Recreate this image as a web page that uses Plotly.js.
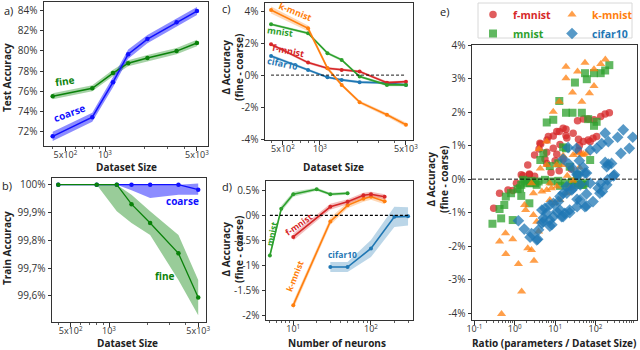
<!DOCTYPE html>
<html><head><meta charset="utf-8">
<script src="https://cdn.plot.ly/plotly-3.0.1.min.js"></script>
<style>html,body{margin:0;padding:0;background:#fff}#chart{width:640px;height:350px}</style>
</head><body><div id="chart"></div>
<script>
// ---------- data ----------
const datasetSizes = [400, 800, 1150, 1500, 2100, 3500, 5000];
const sizeTickVals = [500, 1000, 5000];
const sizeTickText = ['5x10<sup>2</sup>', '10<sup>3</sup>', '5x10<sup>3</sup>'];

// a) test accuracy (%)
const testFine = [75.52, 76.3, 77.8, 78.77, 79.27, 79.96, 80.75];
const testFineErr = [0.3, 0.3, 0.32, 0.3, 0.3, 0.3, 0.32];
const testCoarse = [71.57, 73.45, 76.9, 79.66, 81.14, 82.8, 83.9];
const testCoarseErr = [0.45, 0.45, 0.5, 0.45, 0.4, 0.4, 0.4];
const testTickVals = [72, 74, 76, 78, 80, 82, 84];
const testTickText = ['72%', '74%', '76%', '78%', '80%', '82%', '84%'];

// b) train accuracy (%)
const trainFine = [100, 100, 100, 99.930, 99.862, 99.753, 99.594];
const trainFineLow = [100, 100, 99.904, 99.862, 99.819, 99.657, 99.53];
const trainFineHigh = [100, 100, 100, 99.964, 99.904, 99.819, 99.657];
const trainCoarse = [100, 100, 100, 100, 100, 100, 99.982];
const trainCoarseLow = [100, 100, 100, 99.98, 99.952, 99.964, 99.964];
const trainCoarseHigh = [100, 100, 100, 100, 100, 100, 100.004];
const trainTickVals = [99.6, 99.7, 99.8, 99.9, 100];
const trainTickText = ['99,6%', '99,7%', '99,8%', '99,9%', '100%'];

// c) delta accuracy vs dataset size (%)
const kmnistBySize = [4.06, 2.92, 0.43, -0.61, -1.69, -2.48, -3.1];
const kmnistBySizeErr = [0.22, 0.18, 0.12, 0.1, 0.1, 0.12, 0.14];
const mnistBySize = [3.17, 2.61, 1.37, 0.95, -0.09, -0.61, -0.61];
const mnistBySizeErr = [0.08, 0.08, 0.08, 0.08, 0.08, 0.08, 0.08];
const fmnistBySize = [1.93, 0.78, 0.43, 0.32, 0.22, -0.47, -0.41];
const fmnistBySizeErr = [0.08, 0.08, 0.08, 0.08, 0.08, 0.08, 0.08];
const cifarBySize = [1.2, 0.32, -0.13, -0.3, -0.44, -0.49, -0.61];
const cifarBySizeErr = [0.08, 0.08, 0.08, 0.08, 0.08, 0.08, 0.08];
const cTickVals = [-4, -2, 0, 2, 4];
const cTickText = ['-4%', '-2%', '0%', '2%', '4%'];

// d) delta accuracy vs number of neurons (%)
const mnistNeurons = [5, 7, 10, 20, 30, 50];
const mnistByNeurons = [-0.8, 0.13, 0.42, 0.52, 0.42, 0.44];
const mnistByNeuronsErr = [0.06, 0.06, 0.05, 0.03, 0.03, 0.03];
const fmnistNeurons = [10, 30, 50, 80, 100, 150];
const fmnistByNeurons = [-0.43, 0.17, 0.27, 0.40, 0.42, 0.37];
const fmnistByNeuronsErr = [0.07, 0.06, 0.05, 0.05, 0.05, 0.05];
const kmnistNeurons = [10, 30, 50, 80, 100, 150];
const kmnistByNeurons = [-1.79, -0.12, 0.2, 0.33, 0.37, 0.28];
const kmnistByNeuronsErr = [0.08, 0.07, 0.06, 0.06, 0.06, 0.06];
const cifarNeurons = [30, 50, 100, 200, 300];
const cifarByNeurons = [-1.03, -1.03, -0.66, -0.03, -0.02];
const cifarByNeuronsErr = [0.1, 0.1, 0.17, 0.2, 0.18];
const dTickVals = [-2, -1.5, -1, -0.5, 0, 0.5];
const dTickText = ['-2%', '-1.5%', '-1%', '-0.5%', '0%', '0.5%'];

// e) scatter: ratio (parameters / dataset size) vs delta accuracy (%)
const fmnistRatio = [221,174,135,92,66,50,36,18.6,12.7,9.0,6.3,4.2,3.1,2.1,4.0,6.2,9.0,13.2,19.5,28,38,50,66,87,107,74,38,5.6,1.45,2.3,3.1,1.1,0.68,0.89,0.42,0.30,6.2,11,1.6,2.3,4.4,6.8,11,15.8,18.6,10,15.8,25,7.9,40,12.6];
const fmnistDelta = [1.98,1.94,1.87,1.77,1.79,1.79,1.74,1.49,1.42,1.29,1.17,1.07,0.72,0.42,0.90,0.80,0.92,1.03,1.23,1.37,1.19,1.12,1.17,1.22,1.27,1.12,0.85,0.60,0.13,0.13,0.09,-0.12,-0.32,-0.34,-0.42,-0.87,0.47,0.74,0.10,0.15,1.05,1.27,1.42,1.52,1.30,0.55,0.60,0.30,0.20,1.00,0.25];
const mnistRatio = [31,61,55,92,135,174,221,12.7,18.6,27,46,66,107,92,6.2,9.0,18.6,1.74,2.6,3.9,5.6,8.1,12,17.4,26,37,55,35,23,12,7.4,4.3,5.1,1.45,1.17,1.45,0.81,0.60,0.55,0.42,2.3,0.46,0.89,0.28,3.2,2.0,13.2,21,50,1.62,2.4,3.5,1.35,31,46,15.8,74];
const mnistDelta = [2.88,2.98,3.16,3.16,3.16,3.24,3.40,2.33,1.98,1.98,1.98,1.79,1.71,1.59,1.69,1.77,0.92,-0.07,-0.05,-0.07,-0.02,-0.07,-0.05,-0.12,-0.07,-0.12,-0.12,0.13,0.37,0.47,0.39,0.57,0.77,-0.17,-0.30,-0.50,-0.42,-0.52,-0.77,-0.89,-0.72,-1.17,-1.22,-1.33,-0.12,-0.12,-0.20,-0.22,-0.17,-0.02,-0.12,-0.17,-0.27,-0.17,-0.17,0.95,0.57];
const kmnistRatio = [18.6,18.6,55,36,27,46,71,92,92,135,176,12.7,9.0,6.2,4.3,6.2,11,15.8,35,46,60,7.4,8.1,6.2,4.7,2.9,2.6,1.74,1.86,2.9,3.5,3.9,2.6,2.1,1.23,3.0,0.60,0.89,0.59,0.42,7.4,9.8,13.2,19.5,23,11,1.48,0.47,4.0,15.8,28,50,20,28,40];
const kmnistDelta = [3.35,3.01,3.47,3.21,2.58,2.31,2.56,3.28,2.78,3.43,3.57,2.31,2.01,1.12,0.32,0.42,0.42,0.42,0.77,0.72,0.77,-0.12,-0.27,-0.32,-0.37,-0.42,-0.12,-0.77,-0.92,-1.07,-1.27,-1.56,-2.11,-2.06,-2.53,-2.43,-2.23,-1.79,-1.61,-1.86,-0.62,-0.72,-0.62,-0.42,-0.27,-0.22,-3.35,-4.02,0.90,0.70,0.72,0.75,0.10,-0.05,0.35];
const cifarRatio = [841,490,355,174,209,143,692,427,107,74,34,21,174,209,251,191,295,200,135,148,87,60,55,42,35,23,17.4,14.5,11,7.4,9.1,5.6,4.7,7.4,12,15.8,19.5,26,35,55,74,117,3.7,2.4,1.72,3.9,2.6,1.23,4.7,5.1,7.4,279,191,129,60,35,23,15.8,13.2,8.3,5.1,3.5,6.2,9.1,13.2,19.5,28,42,60,38,15.8,22,40,50,28];
const cifarDelta = [1.25,1.47,1.25,1.37,1.12,1.06,0.92,0.77,0.92,0.87,0.92,0.94,0.50,0.45,0.47,0.37,0.13,-0.02,-0.12,-0.37,-0.67,-0.44,-0.82,-0.62,-0.82,-0.92,-1.02,-1.12,-0.97,-1.22,-1.12,-0.87,-0.92,-0.77,-0.67,-0.42,-0.22,-0.32,0.13,0.18,-0.12,-0.27,-1.79,-1.73,-1.49,-1.51,-1.62,-1.24,-1.31,-1.16,-1.40,0.10,-0.17,-0.42,-0.80,-0.60,-1.00,-1.12,-0.92,-1.36,-1.27,-1.81,-1.02,-0.72,-0.52,-0.42,-0.27,-0.17,0.18,0.13,0.60,0.45,0.55,0.35,0.30];
const eTickVals = [-4, -3, -2, -1, 0, 1, 2, 3, 4];
const eTickText = ['-4%', '-3%', '-2%', '-1%', '0%', '1%', '2%', '3%', '4%'];
const ratioTickVals = [0.1, 1, 10, 100];
const ratioTickText = ['10<sup>-1</sup>', '10<sup>0</sup>', '10<sup>1</sup>', '10<sup>2</sup>'];
const neuronTickVals = [10, 100];
const neuronTickText = ['10<sup>1</sup>', '10<sup>2</sup>'];

// ---------- helpers ----------
const F = '"Open Sans", "DejaVu Sans", sans-serif';
const GREEN = '#0a820a', BLUE = '#1010ff';
const C_F = '#d62728', C_K = '#ff7f0e', C_M = '#2ca02c', C_C = '#1f77b4';
const W = 640, H = 350;
const px = x => x / W, py = y => 1 - y / H;
const minus = (a, b) => a.map((v, i) => v - b[i]);
const plus = (a, b) => a.map((v, i) => v + b[i]);
function minorLog(lo, hi) { const v = []; for (let d = lo; d <= hi; d++) for (let m = 2; m <= 9; m++) v.push(m * Math.pow(10, d)); return v; }

const traces = [];
function band(x, lo, hi, color, xa, ya) {
  traces.push({x: x.concat(x.slice().reverse()), y: hi.concat(lo.slice().reverse()), xaxis: xa, yaxis: ya,
    type: 'scatter', mode: 'lines', fill: 'toself', fillcolor: color, line: {width: 0}, hoverinfo: 'skip', showlegend: false});
}
function line(x, y, color, xa, ya, w, ms) {
  traces.push({x, y, xaxis: xa, yaxis: ya, type: 'scatter', mode: 'lines+markers',
    line: {color, width: w}, marker: {color, size: ms}, showlegend: false, hoverinfo: 'skip'});
}

// a
band(datasetSizes, minus(testFine, testFineErr), plus(testFine, testFineErr), 'rgba(0,128,0,0.35)', 'x', 'y');
band(datasetSizes, minus(testCoarse, testCoarseErr), plus(testCoarse, testCoarseErr), 'rgba(0,0,255,0.45)', 'x', 'y');
line(datasetSizes, testFine, GREEN, 'x', 'y', 1.5, 4.5);
line(datasetSizes, testCoarse, BLUE, 'x', 'y', 1.5, 4.5);
// b
band(datasetSizes, trainCoarseLow, trainCoarseHigh, 'rgba(0,0,255,0.45)', 'x2', 'y2');
band(datasetSizes, trainFineLow, trainFineHigh, 'rgba(0,128,0,0.4)', 'x2', 'y2');
line(datasetSizes, trainCoarse, BLUE, 'x2', 'y2', 1.3, 4.5);
line(datasetSizes, trainFine, GREEN, 'x2', 'y2', 1.3, 4.5);
// c
[[cifarBySize, cifarBySizeErr, C_C, 'rgba(31,119,180,0.3)'],
 [fmnistBySize, fmnistBySizeErr, C_F, 'rgba(214,39,40,0.3)'],
 [mnistBySize, mnistBySizeErr, C_M, 'rgba(44,160,44,0.3)'],
 [kmnistBySize, kmnistBySizeErr, C_K, 'rgba(255,127,14,0.3)']].forEach(([m, e, c, fc]) => {
  band(datasetSizes, minus(m, e), plus(m, e), fc, 'x3', 'y3');
  line(datasetSizes, m, c, 'x3', 'y3', 1.6, 4);
});
// d
[[cifarNeurons, cifarByNeurons, cifarByNeuronsErr, C_C, 'rgba(31,119,180,0.3)'],
 [mnistNeurons, mnistByNeurons, mnistByNeuronsErr, C_M, 'rgba(44,160,44,0.3)'],
 [kmnistNeurons, kmnistByNeurons, kmnistByNeuronsErr, C_K, 'rgba(255,127,14,0.3)'],
 [fmnistNeurons, fmnistByNeurons, fmnistByNeuronsErr, C_F, 'rgba(214,39,40,0.3)']].forEach(([x, m, e, c, fc]) => {
  band(x, minus(m, e), plus(m, e), fc, 'x4', 'y4');
  line(x, m, c, 'x4', 'y4', 1.6, 4);
});
// e scatter
function scat(x, y, name, color, symbol, size, legend) {
  traces.push({x, y, xaxis: 'x5', yaxis: 'y5', type: 'scatter', mode: 'markers', legend,
    name: '<span style="color:' + color + '"><b>' + name + '</b></span>',
    marker: {color, symbol, size, opacity: 0.75, line: {width: 0}}, hoverinfo: 'skip'});
}
scat(fmnistRatio, fmnistDelta, 'f-mnist', C_F, 'circle', 7.5, 'legend');
scat(mnistRatio, mnistDelta, 'mnist', C_M, 'square', 8, 'legend');
scat(kmnistRatio, kmnistDelta, 'k-mnist', C_K, 'triangle-up', 8, 'legend2');
scat(cifarRatio, cifarDelta, 'cifar10', C_C, 'diamond', 9, 'legend2');

// ---------- axes ----------
const tf = {family: F, size: 10, color: '#333'};
const tfx = {family: F, size: 9, color: '#333'};
function ax(domain, o) {
  return Object.assign({domain, showline: true, mirror: true, linecolor: '#333', linewidth: 1, ticks: 'outside',
    ticklen: 3.5, tickwidth: 1, tickcolor: '#333', tickfont: tf, showgrid: false, zeroline: false, fixedrange: true,
    tickmode: 'array'}, o);
}
function xax(domain, o) { return ax(domain, Object.assign({type: 'log', tickfont: tfx, ticklabelstandoff: -3}, o)); }
const minorStyle = vals => ({tickmode: 'array', tickvals: vals, ticks: 'outside', ticklen: 2, tickwidth: 0.8, tickcolor: '#333'});
const sizeMinor = minorStyle([400, 600, 700, 800, 900, 2000, 3000, 4000]);

const layout = {
  width: W, height: H, margin: {l: 0, r: 0, t: 0, b: 0}, paper_bgcolor: '#fff', plot_bgcolor: '#fff',
  font: {family: F, size: 10, color: '#222'}, showlegend: true,
  xaxis: xax([px(44), px(208)], {anchor: 'y', range: [2.536, 3.783], tickvals: sizeTickVals, ticktext: sizeTickText, minor: sizeMinor}),
  yaxis: ax([py(146), py(2)], {anchor: 'x', range: [70.62, 84.79], tickvals: testTickVals, ticktext: testTickText}),
  xaxis2: xax([px(52), px(206)], {anchor: 'y2', range: [2.553, 3.760], tickvals: sizeTickVals, ticktext: sizeTickText, minor: sizeMinor}),
  yaxis2: ax([py(322), py(178)], {anchor: 'x2', range: [99.506, 100.024], tickvals: trainTickVals, ticktext: trainTickText}),
  xaxis3: xax([px(265), px(413)], {anchor: 'y3', range: [2.553, 3.756], tickvals: sizeTickVals, ticktext: sizeTickText, minor: sizeMinor}),
  yaxis3: ax([py(140), py(3)], {anchor: 'x3', range: [-4.05, 4.5], tickvals: cTickVals, ticktext: cTickText}),
  xaxis4: xax([px(266), px(413)], {anchor: 'y4', range: [0.649, 2.541], tickvals: neuronTickVals, ticktext: neuronTickText, minor: minorStyle([5, 6, 7, 8, 9, 20, 30, 40, 50, 60, 70, 80, 90, 200, 300])}),
  yaxis4: ax([py(320), py(181)], {anchor: 'x4', range: [-2.086, 0.685], tickvals: dTickVals, ticktext: dTickText}),
  xaxis5: xax([px(472), px(637)], {anchor: 'y5', range: [-1.06, 3.03], tickvals: ratioTickVals, ticktext: ratioTickText, minor: minorStyle(minorLog(-1, 2))}),
  yaxis5: ax([py(320), py(45)], {anchor: 'x5', range: [-4.2, 4.0], tickvals: eTickVals, ticktext: eTickText}),
  legend: {x: px(473), y: py(0), xanchor: 'left', yanchor: 'top', bgcolor: 'rgba(0,0,0,0)', borderwidth: 0, font: {family: F, size: 10.5}, tracegroupgap: 0},
  legend2: {x: px(552), y: py(0), xanchor: 'left', yanchor: 'top', bgcolor: 'rgba(0,0,0,0)', borderwidth: 0, font: {family: F, size: 10.5}, tracegroupgap: 0},
  shapes: [
    {type: 'line', xref: 'x3', yref: 'y3', x0: datasetSizes[0], x1: datasetSizes[datasetSizes.length - 1], y0: 0, y1: 0, line: {color: '#000', width: 0.9, dash: '3px,2px'}},
    {type: 'line', xref: 'x4', yref: 'y4', x0: mnistNeurons[0], x1: cifarNeurons[cifarNeurons.length - 1], y0: 0, y1: 0, line: {color: '#000', width: 1.2, dash: '3px,2px'}},
    {type: 'line', xref: 'x5 domain', yref: 'y5', x0: 0, x1: 1, y0: 0, y1: 0, line: {color: '#000', width: 0.9, dash: '4px,2px'}},
    {type: 'rect', xref: 'paper', yref: 'paper', x0: px(478), x1: px(632), y0: py(38), y1: py(3), line: {color: '#d8d8d8', width: 1}, fillcolor: 'rgba(255,255,255,0.8)', layer: 'below'}
  ],
  annotations: []
};

const A = layout.annotations;
function note(text, x, y, o) { A.push(Object.assign({text, x: px(x), y: py(y), xref: 'paper', yref: 'paper', xanchor: 'center', yanchor: 'middle', showarrow: false, font: {family: F, size: 10, color: '#222'}}, o || {})); }
const bold = (s) => '<b>' + s + '</b>';
// panel letters
note('a)', 8, 10, {font: {family: F, size: 11, color: '#222'}});
note('b)', 7, 185, {font: {family: F, size: 11, color: '#222'}});
note('c)', 226, 9, {font: {family: F, size: 11, color: '#222'}});
note('d)', 227, 186, {font: {family: F, size: 11, color: '#222'}});
note('e)', 444, 11, {font: {family: F, size: 11, color: '#222'}});
// axis titles
note(bold('Test Accuracy'), 7, 78, {textangle: -90});
note(bold('Train Accuracy'), 7, 248, {textangle: -90});
note(bold('Dataset Size'), 126, 167);
note(bold('Dataset Size'), 127, 343);
note(bold('Dataset Size'), 333, 167);
note(bold('Number of neurons'), 337, 343);
note(bold('Ratio (parameters / Dataset Size)'), 554, 343);
note(bold('Δ Accuracy<br>(fine - coarse)'), 232, 68, {textangle: -90});
note(bold('Δ Accuracy<br>(fine - coarse)'), 232, 250, {textangle: -90});
note(bold('Δ Accuracy<br>(fine - coarse)'), 438, 180, {textangle: -90});
// in-plot labels
note(bold('fine'), 64, 81, {textangle: -8, font: {family: F, size: 10, color: GREEN}});
note(bold('coarse'), 69, 113, {textangle: -20, font: {family: F, size: 10, color: BLUE}});
note(bold('coarse'), 182, 201, {font: {family: F, size: 10, color: BLUE}});
note(bold('fine'), 164, 276, {font: {family: F, size: 10, color: GREEN}});
note(bold('k-mnist'), 295, 12, {textangle: 22, font: {family: F, size: 9, color: C_K}});
note(bold('mnist'), 280, 32, {textangle: 8, font: {family: F, size: 9, color: C_M}});
note(bold('f-mnist'), 288, 51, {textangle: 12, font: {family: F, size: 9, color: C_F}});
note(bold('cifar10'), 282, 64, {textangle: 12, font: {family: F, size: 9, color: C_C}});
note(bold('mnist'), 271, 234, {textangle: -78, font: {family: F, size: 8.5, color: C_M}});
note(bold('f-mnist'), 298, 224, {textangle: -35, font: {family: F, size: 8.5, color: C_F}});
note(bold('k-mnist'), 294, 276, {textangle: -68, font: {family: F, size: 8.5, color: C_K}});
note(bold('cifar10'), 342, 254, {font: {family: F, size: 8.5, color: C_C}});

Plotly.newPlot('chart', traces, layout, {staticPlot: true, displayModeBar: false});
</script>
</body></html>
